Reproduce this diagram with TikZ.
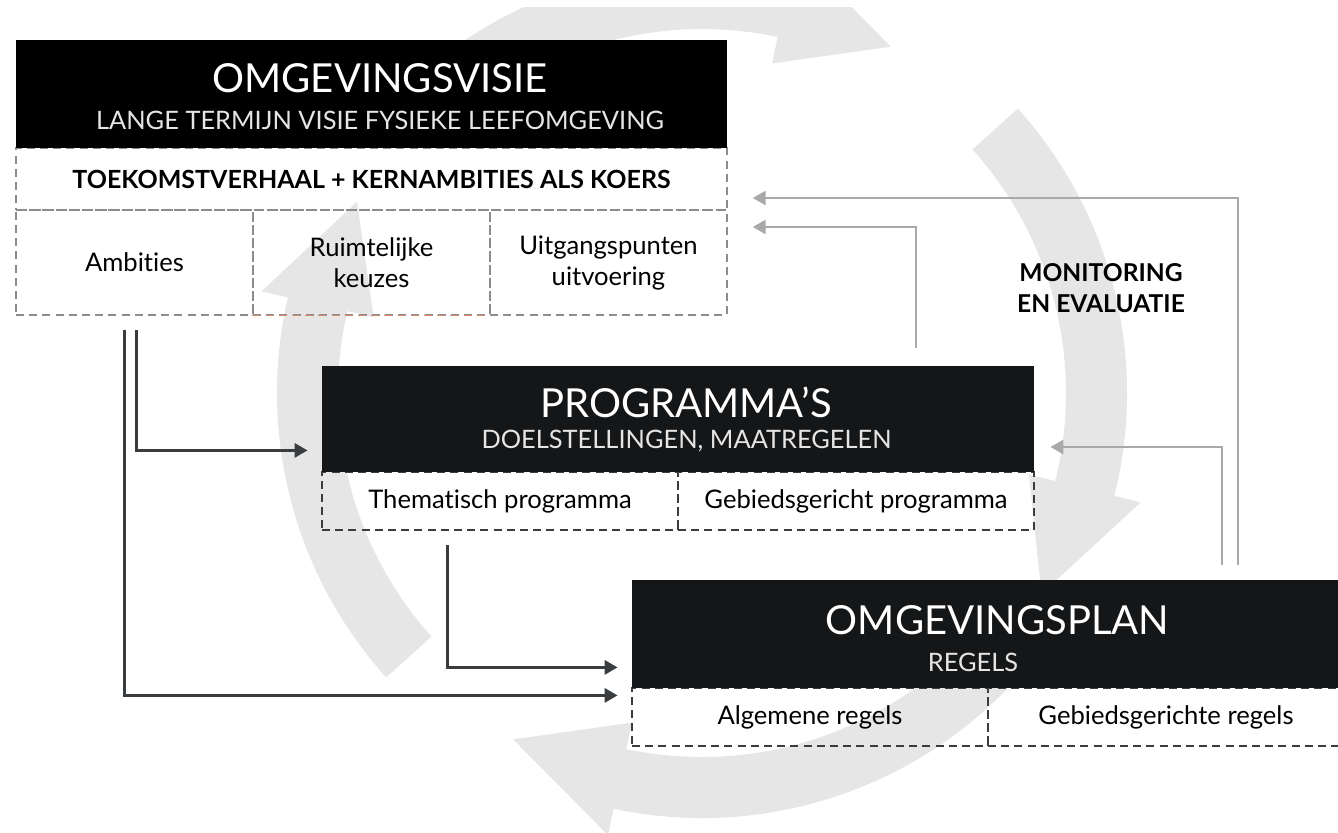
\documentclass[tikz,border=0pt]{standalone}
\usepackage{fontspec}
\setmainfont{Lato}[Ligatures=NoCommon]
\usetikzlibrary{arrows.meta,positioning,calc}

\definecolor{headblack}{HTML}{141618}
\definecolor{cyclegrey}{HTML}{E6E6E6}
\definecolor{linegrey}{HTML}{A9A9A9}
\definecolor{arrowdark}{HTML}{3A3D40}
\definecolor{dashgrey}{HTML}{8C8C8C}
\definecolor{dashred}{HTML}{D98A6C}

\tikzset{
    headbox/.style={fill=headblack, draw=none, inner sep=0pt, minimum width=356pt, minimum height=53pt},
    boxtitle/.style={text=white, font=\fontsize{20}{24}\selectfont},
    boxsub/.style={text=black!10, font=\fontsize{12.7}{15}\selectfont},
    cellbox/.style={draw=arrowdark, dash pattern=on 4pt off 2.6pt, line width=0.7pt, inner sep=0pt,
        minimum height=29pt, align=center, font=\fontsize{12.8}{15.5}\selectfont},
    feed/.style={draw=arrowdark, line width=1.5pt, -{Triangle[length=6.5pt,width=7pt]}},
    terug/.style={draw=linegrey, line width=1.2pt, -{Triangle[length=6.5pt,width=7pt]}},
}

\begin{document}
\begin{tikzpicture}[x=0.5pt,y=-0.5pt]
        \path[fill=white, use as bounding box] (0,0) rectangle (1338,832);

        \begin{scope}
            \clip (0,7) rectangle (1338,832);
            \begin{scope}[shift={(702,393)}]
                \fill[cyclegrey] (-130:364) arc[start angle=-130, end angle=-78, radius=364] -- (-78:337) -- (-61.4:394.5) -- (-78:452) -- (-78:425) arc[start angle=-78, end angle=-130, radius=425] -- cycle;
                \fill[cyclegrey] (-42:364) arc[start angle=-42, end angle=14, radius=364] -- (14:337) -- (30.6:394.5) -- (14:452) -- (14:425) arc[start angle=14, end angle=-42, radius=425] -- cycle;
                \fill[cyclegrey] (38:364) arc[start angle=38, end angle=102, radius=364] -- (102:337) -- (118.6:394.5) -- (102:452) -- (102:425) arc[start angle=102, end angle=38, radius=425] -- cycle;
                \fill[cyclegrey] (138:364) arc[start angle=138, end angle=193, radius=364] -- (193:337) -- (209:394.5) -- (193:452) -- (193:425) arc[start angle=193, end angle=138, radius=425] -- cycle;
            \end{scope}
        \end{scope}

        \node[cellbox, draw=dashgrey, minimum width=355.5pt, minimum height=31pt, font=\bfseries\fontsize{12.5}{15}\selectfont] (koers) at (371.5,179) {TOEKOMSTVERHAAL + KERNAMBITIES ALS KOERS};
        \node[cellbox, draw=dashgrey, minimum width=118.5pt, minimum height=52.5pt] (ambities) at (134.5,262.5) {Ambities};
        \node[cellbox, draw=dashgrey, minimum width=118.5pt, minimum height=52.5pt] (keuzes) at (371.5,262.5) {Ruimtelijke\\keuzes};
        \node[cellbox, draw=dashgrey, minimum width=118.5pt, minimum height=52.5pt] (uitvoering) at (608.5,262.5) {Uitgangspunten\\uitvoering};
        \draw[dashred, dash pattern=on 4pt off 2.6pt, line width=0.7pt] (keuzes.south west) -- (keuzes.south east);
        \node[headbox, fill=black, minimum width=355.5pt, minimum height=54pt] (visie) at (371.5,94) {};
        \node[boxtitle] (visietitel) at (380,78) {OMGEVINGSVISIE};
        \node[boxsub] (visiesub) at (380,120) {LANGE TERMIJN VISIE FYSIEKE LEEFOMGEVING};

        \node[cellbox, minimum width=178pt] (thema) at (500,501) {Thematisch programma};
        \node[cellbox, minimum width=178pt] (gebiedprog) at (856,501) {Gebiedsgericht programma};
        \node[headbox] (prog) at (678,419) {};
        \node[boxtitle] (progtitel) at (686,402) {PROGRAMMA’S};
        \node[boxsub] (progsub) at (686.5,441) {DOELSTELLINGEN, MAATREGELEN};

        \node[cellbox, minimum width=178pt] (algemeen) at (810,717) {Algemene regels};
        \node[cellbox, minimum width=178pt] (gebiedregels) at (1166,717) {Gebiedsgerichte regels};
        \node[headbox, minimum width=356.5pt, minimum height=54pt] (plan) at (988.5,634) {};
        \node[boxtitle] (plantitel) at (997.5,620) {OMGEVINGSPLAN};
        \node[boxsub] (plansub) at (973,662) {REGELS};

        \node[align=center, font=\bfseries\fontsize{12.3}{15.5}\selectfont] (monitor) at (1101,288) {MONITORING\\EN EVALUATIE};

        \coordinate (v1) at (136,330);
        \coordinate (v2) at (124,330);
        \coordinate (p1) at (447,545);
        \coordinate (m1) at (1238,565);
        \coordinate (m2) at (1222,565);
        \coordinate (m3) at (916,348);

        \draw[feed] (v1) |- ([xshift=-7pt,yshift=11pt]prog.south west);
        \draw[feed] (v2) |- ([xshift=-7pt,yshift=-3.5pt]plan.south west);
        \draw[feed] (p1) |- ([xshift=-7pt,yshift=10.5pt]plan.south west);
        \draw[terug] (m1) |- ([xshift=12.5pt,yshift=-9.5pt]koers.east);
        \draw[terug] (m3) |- ([xshift=12.5pt,yshift=-24pt]koers.east);
        \draw[terug] (m2) |- ([xshift=8pt,yshift=-14pt]prog.east);
\end{tikzpicture}
\end{document}
